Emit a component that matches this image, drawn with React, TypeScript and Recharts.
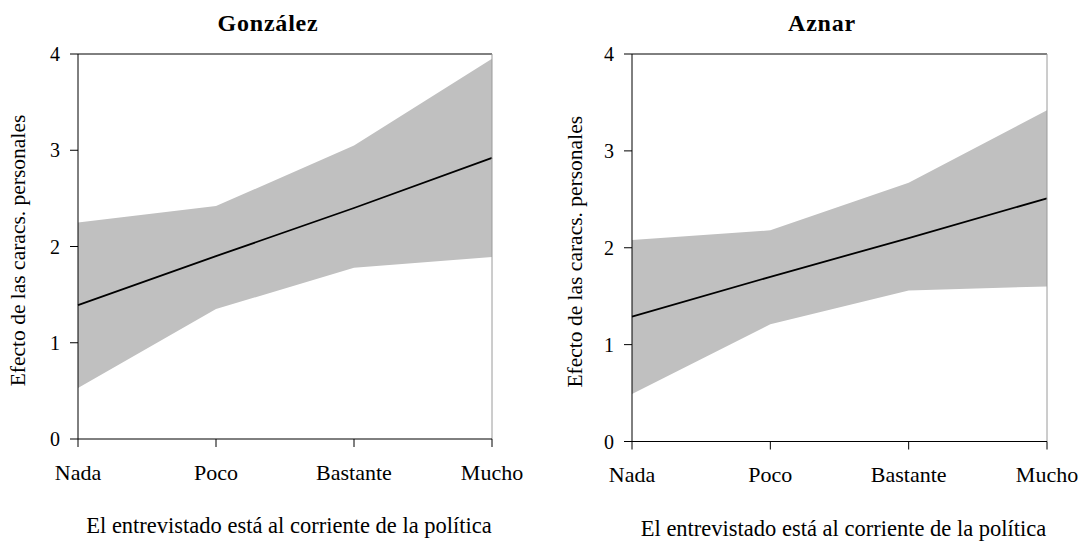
import React from 'react';
import { ComposedChart, Area, Line, XAxis, YAxis, ReferenceLine } from 'recharts';

const categories = ['Nada', 'Poco', 'Bastante', 'Mucho'];
const yTicks = [0, 1, 2, 3, 4];

const gonzalezMean = [1.39, 1.9, 2.4, 2.92];
const gonzalezLow = [0.53, 1.35, 1.78, 1.89];
const gonzalezHigh = [2.25, 2.42, 3.05, 3.95];

const aznarMean = [1.29, 1.7, 2.1, 2.51];
const aznarLow = [0.49, 1.21, 1.56, 1.6];
const aznarHigh = [2.08, 2.18, 2.67, 3.42];

const titles = ['González', 'Aznar'];
const yLabel = 'Efecto de las caracs. personales';
const xLabel = 'El entrevistado está al corriente de la política';

const FONT = 'Liberation Serif';

function buildRows(mean: number[], low: number[], high: number[]) {
  return categories.map((c, i) => ({ cat: c, mean: mean[i], band: [low[i], high[i]] }));
}

type PanelProps = {
  title: string;
  mean: number[];
  low: number[];
  high: number[];
  left: number;
  yAxisWidth: number;
  marginRight: number;
  marginBottom: number;
  yLabelOffset: number;
};

function Panel(p: PanelProps) {
  const data = buildRows(p.mean, p.low, p.high);
  const W = 541;
  const H = 543;
  const xAxisHeight = 60;
  return (
    <div style={{ position: 'absolute', left: p.left, top: 0, width: W, height: H }}>
      <ComposedChart
        width={W}
        height={H}
        data={data}
        style={{ fontFamily: FONT }}
        margin={{ top: 54, right: p.marginRight, bottom: p.marginBottom - xAxisHeight, left: 0 }}
      >
        <XAxis
          dataKey="cat"
          scale="point"
          padding={{ left: 0, right: 0 }}
          interval={0}
          height={xAxisHeight}
          tickSize={8}
          tickMargin={17}
          axisLine={{ stroke: '#000', strokeWidth: 1 }}
          tickLine={{ stroke: '#000', strokeWidth: 1 }}
          tick={{ fill: '#000', fontSize: 22, style: { fontFamily: FONT } }}
          label={{
            content: (props: any) => {
              const vb = props.viewBox || {};
              return (
                <text
                  x={vb.x + vb.width / 2 + 4}
                  y={vb.y + 94}
                  textAnchor="middle"
                  fontSize={22.5}
                  style={{ fontFamily: FONT }}
                  fill="#000"
                >
                  {xLabel}
                </text>
              );
            },
          }}
        />
        <YAxis
          type="number"
          domain={[0, 4]}
          ticks={yTicks}
          interval={0}
          width={p.yAxisWidth}
          tickSize={8}
          tickMargin={10}
          axisLine={{ stroke: '#000', strokeWidth: 1 }}
          tickLine={{ stroke: '#000', strokeWidth: 1 }}
          tick={{ fill: '#000', fontSize: 20, style: { fontFamily: FONT } }}
          label={{
            content: (props: any) => {
              const vb = props.viewBox || {};
              const cx = vb.x + p.yLabelOffset;
              const cy = vb.y + vb.height / 2 + 4;
              return (
                <text
                  x={cx}
                  y={cy}
                  transform={`rotate(-90, ${cx}, ${cy})`}
                  textAnchor="middle"
                  dominantBaseline="central"
                  fontSize={21.5}
                  style={{ fontFamily: FONT }}
                  fill="#000"
                >
                  {yLabel}
                </text>
              );
            },
          }}
        />
        <Area
          type="linear"
          dataKey="band"
          stroke="none"
          fill="#c0c0c0"
          fillOpacity={1}
          isAnimationActive={false}
          dot={false}
          activeDot={false}
        />
        <Line
          type="linear"
          dataKey="mean"
          stroke="#000"
          strokeWidth={1.8}
          dot={false}
          activeDot={false}
          isAnimationActive={false}
        />
        <ReferenceLine
          y={4}
          stroke="#000"
          strokeWidth={1}
          label={{
            content: (props: any) => {
              const vb = props.viewBox || {};
              return (
                <text
                  x={vb.x + 190}
                  y={vb.y - 23}
                  textAnchor="middle"
                  fontSize={24}
                  fontWeight="bold"
                  letterSpacing={0.8}
                  style={{ fontFamily: FONT }}
                  fill="#000"
                >
                  {p.title}
                </text>
              );
            },
          }}
        />
        <ReferenceLine x="Mucho" stroke="#9a9a9a" strokeWidth={1} />
      </ComposedChart>
    </div>
  );
}

export default function App() {
  return (
    <div style={{ position: 'absolute', left: 0, top: 0, width: 1082, height: 543, background: '#fff', fontFamily: FONT }}>
      <Panel
        title={titles[0]}
        mean={gonzalezMean}
        low={gonzalezLow}
        high={gonzalezHigh}
        left={0}
        yAxisWidth={78}
        marginRight={49}
        marginBottom={104}
        yLabelOffset={18}
      />
      <Panel
        title={titles[1]}
        mean={aznarMean}
        low={aznarLow}
        high={aznarHigh}
        left={541}
        yAxisWidth={91}
        marginRight={35}
        marginBottom={101.5}
        yLabelOffset={34}
      />
    </div>
  );
}
